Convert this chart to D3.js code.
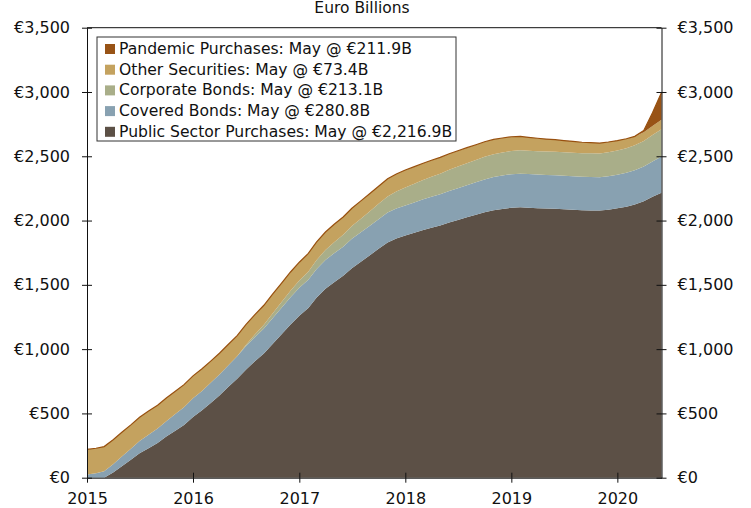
<!DOCTYPE html>
<html lang="en">
<head>
<meta charset="UTF-8">
<title>ECB Asset Purchases</title>
<style>
  body { margin: 0; background: #fff; }
  svg text { font-family: "DejaVu Sans", Verdana, sans-serif; fill: #111; }
</style>
</head>
<body>
<svg id="chart" width="751" height="508"></svg>
<script src="https://cdn.jsdelivr.net/npm/d3@7"></script>
<script>
/* global d3 */

// month-end holdings, Dec 2014 .. May 2020, euro billions
var months = [
  "2014-12",
  "2015-01","2015-02","2015-03","2015-04","2015-05","2015-06","2015-07","2015-08","2015-09","2015-10","2015-11","2015-12",
  "2016-01","2016-02","2016-03","2016-04","2016-05","2016-06","2016-07","2016-08","2016-09","2016-10","2016-11","2016-12",
  "2017-01","2017-02","2017-03","2017-04","2017-05","2017-06","2017-07","2017-08","2017-09","2017-10","2017-11","2017-12",
  "2018-01","2018-02","2018-03","2018-04","2018-05","2018-06","2018-07","2018-08","2018-09","2018-10","2018-11","2018-12",
  "2019-01","2019-02","2019-03","2019-04","2019-05","2019-06","2019-07","2019-08","2019-09","2019-10","2019-11","2019-12",
  "2020-01","2020-02","2020-03","2020-04","2020-05"
];

var publicSector = [
  0,
  0, 0, 40, 90, 140, 190, 230, 270, 320, 365, 410, 473,
  525, 580, 640, 705, 770, 840, 905, 966, 1040, 1115, 1190, 1260,
  1320, 1400, 1470, 1520, 1570, 1630, 1680, 1730, 1780, 1830, 1860, 1884,
  1905, 1925, 1945, 1962, 1985, 2005, 2025, 2045, 2065, 2080, 2090, 2099,
  2103, 2100, 2096, 2094, 2091, 2088, 2084, 2081, 2079, 2078, 2085, 2095,
  2108, 2125, 2150, 2185, 2216.9
];

var coveredBonds = [
  25,
  35, 50, 65, 75, 85, 95, 105, 112, 120, 130, 138, 144,
  150, 156, 162, 168, 175, 182, 188, 194, 200, 206, 212, 218,
  220, 222, 224, 226, 227, 228, 229, 230, 231, 232, 233, 234,
  236, 238, 240, 242, 245, 247, 250, 252, 255, 258, 260, 262,
  262, 262, 262, 261, 261, 260, 260, 259, 259, 259, 260, 262,
  264, 266, 270, 275, 280.8
];

var corporateBonds = [
  0,
  0, 0, 0, 0, 0, 0, 0, 0, 0, 0, 0, 0,
  0, 0, 0, 0, 0, 10, 20, 29, 38, 45, 51, 55,
  62, 70, 77, 85, 92, 99, 106, 112, 119, 126, 133, 140,
  145, 150, 155, 160, 165, 168, 171, 174, 176, 178, 179, 180,
  181, 181, 182, 182, 183, 183, 184, 184, 185, 185, 186, 187,
  190, 194, 198, 205, 213.1
];

var otherSecurities = [
  195,
  194, 192, 190, 188, 186, 185, 183, 181, 180, 178, 176, 175,
  172, 169, 166, 163, 160, 158, 155, 152, 150, 148, 145, 143,
  142, 141, 140, 140, 139, 139, 138, 138, 137, 137, 136, 135,
  133, 131, 129, 127, 125, 123, 121, 119, 117, 115, 113, 111,
  108, 104, 100, 97, 94, 91, 88, 85, 83, 81, 80, 78,
  74, 70, 68, 71, 73.4
];

var pandemic = [
  0,
  0, 0, 0, 0, 0, 0, 0, 0, 0, 0, 0, 0,
  0, 0, 0, 0, 0, 0, 0, 0, 0, 0, 0, 0,
  0, 0, 0, 0, 0, 0, 0, 0, 0, 0, 0, 0,
  0, 0, 0, 0, 0, 0, 0, 0, 0, 0, 0, 0,
  0, 0, 0, 0, 0, 0, 0, 0, 0, 0, 0, 0,
  0, 0, 15, 103, 211.9
];

var keys = ["publicSector", "coveredBonds", "corporateBonds", "otherSecurities", "pandemic"];
var legendLabels = {
  pandemic: "Pandemic Purchases: May @ \u20ac211.9B",
  otherSecurities: "Other Securities: May @ \u20ac73.4B",
  corporateBonds: "Corporate Bonds: May @ \u20ac213.1B",
  coveredBonds: "Covered Bonds: May @ \u20ac280.8B",
  publicSector: "Public Sector Purchases: May @ \u20ac2,216.9B"
};
var colors = {
  publicSector: "#5c5046",
  coveredBonds: "#88a1b1",
  corporateBonds: "#a9ae89",
  otherSecurities: "#c4a25f",
  pandemic: "#985316"
};
var yTicks = [0, 500, 1000, 1500, 2000, 2500, 3000, 3500];

var parseMonth = d3.timeParse("%Y-%m");
var rows = months.map(function(m, i) {
  return {
    date: d3.timeMonth.offset(parseMonth(m), 1), // end of month
    publicSector: publicSector[i],
    coveredBonds: coveredBonds[i],
    corporateBonds: corporateBonds[i],
    otherSecurities: otherSecurities[i],
    pandemic: pandemic[i]
  };
});

var svg = d3.select("#chart");
var plotLeft = 87, plotRight = 661.5, plotTop = 27.7, plotBottom = 477.7;

var x = d3.scaleTime()
    .domain([rows[0].date, rows[rows.length - 1].date])
    .range([plotLeft, plotRight]);

var y = d3.scaleLinear()
    .domain([0, 3500])
    .range([plotBottom, plotTop]);

var series = d3.stack().keys(keys)(rows);

var area = d3.area()
    .x(function(d) { return x(d.data.date); })
    .y0(function(d) { return y(d[0]); })
    .y1(function(d) { return y(d[1]); });

svg.append("g")
  .selectAll("path")
  .data(series)
  .join("path")
    .attr("fill", function(s) { return colors[s.key]; })
    .attr("d", area);

// thin line on top of the whole stack
svg.append("path")
    .datum(series[series.length - 1])
    .attr("fill", "none")
    .attr("stroke", "#98500f")
    .attr("stroke-width", 1.2)
    .attr("d", d3.line()
        .x(function(d) { return x(d.data.date); })
        .y(function(d) { return y(d[1]); }));

// axes
var fmtEuro = function(v) { return "\u20ac" + d3.format(",")(v); };

var yLeft = svg.append("g")
    .attr("transform", "translate(" + plotLeft + ",0)")
    .call(d3.axisLeft(y).tickValues(yTicks).tickFormat(fmtEuro)
        .tickSize(5).tickSizeOuter(0).tickPadding(12));

var yRight = svg.append("g")
    .attr("transform", "translate(" + plotRight + ",0)")
    .call(d3.axisRight(y).tickValues(yTicks).tickFormat(fmtEuro)
        .tickSize(5).tickSizeOuter(0).tickPadding(11));

var xAxis = svg.append("g")
    .attr("transform", "translate(0," + plotBottom + ")")
    .call(d3.axisBottom(x).ticks(d3.timeYear.every(1)).tickFormat(d3.timeFormat("%Y"))
        .tickSize(5).tickSizeOuter(0).tickPadding(10));

// ticks cross the axis line
yLeft.selectAll(".tick line").attr("x1", 5);
yRight.selectAll(".tick line").attr("x1", -5);
xAxis.selectAll(".tick line").attr("y1", -5);

[yLeft, yRight, xAxis].forEach(function(g) {
  g.selectAll("text").style("font-size", "16px").attr("fill", "#111");
  g.selectAll("line, path").attr("stroke", "#111");
});

// top border
svg.append("line")
    .attr("x1", plotLeft).attr("x2", plotRight)
    .attr("y1", plotTop).attr("y2", plotTop)
    .attr("stroke", "#111");

// title
svg.append("text")
    .attr("x", 362)
    .attr("y", 12.7)
    .attr("text-anchor", "middle")
    .style("font-size", "15.5px")
    .text("Euro Billions");

// legend
var legend = svg.append("g");
legend.append("rect")
    .attr("x", 97).attr("y", 37)
    .attr("width", 359).attr("height", 104)
    .attr("fill", "#fff")
    .attr("stroke", "#333");

var legendKeys = keys.slice().reverse();
var item = legend.selectAll("g.item")
  .data(legendKeys)
  .join("g")
    .attr("class", "item")
    .attr("transform", function(k, i) { return "translate(0," + (54 + i * 20.7) + ")"; });

item.append("rect")
    .attr("x", 105).attr("y", -10)
    .attr("width", 10).attr("height", 10)
    .attr("fill", function(k) { return colors[k]; });

item.append("text")
    .attr("x", 119)
    .attr("y", 0)
    .style("font-size", "15.6px")
    .text(function(k) { return legendLabels[k]; });
</script>
</body>
</html>
